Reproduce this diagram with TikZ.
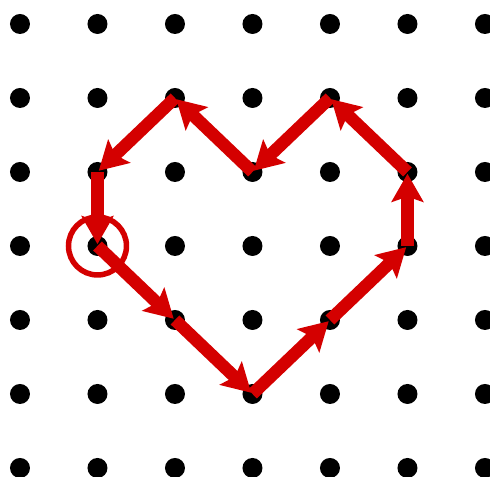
\documentclass[tikz,border=0pt]{standalone}
\usetikzlibrary{arrows.meta}
\definecolor{heartred}{RGB}{212,0,0}
\tikzset{
  peg/.style={circle,fill=black,inner sep=0pt,minimum size=0.4cm},
  heartarrow/.style={draw=heartred,line width=0.25cm,shorten >=1pt,
    -{Stealth[length=16pt,width=18pt,inset=3pt]}},
  ring/.style={circle,draw=heartred,line width=0.11cm,inner sep=0pt,minimum size=1.16cm}
}
\begin{document}
\begin{tikzpicture}[x=1.55cm,y=-1.48cm]
        \useasboundingbox (-0.258,-0.324) rectangle (6.065,6.122);
        % pegboard
        \foreach \i in {0,...,6}
          \foreach \j in {0,...,6}
            \node[peg] (p-\i-\j) at (\i,\j) {};
        % the heart
        \foreach \a/\b in {1-3/2-4, 2-4/3-5, 3-5/4-4, 4-4/5-3, 5-3/5-2,
                           5-2/4-1, 4-1/3-2, 3-2/2-1, 2-1/1-2, 1-2/1-3}
          \draw[heartarrow] (p-\a.center) -- (p-\b.center);
        \node[ring] (start) at (p-1-3) {};
      \end{tikzpicture}
\end{document}
